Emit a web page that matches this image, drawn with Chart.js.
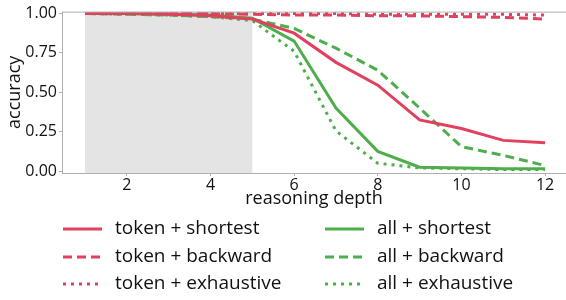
<!DOCTYPE html>
<html>
<head>
<meta charset="utf-8">
<script src="https://cdn.jsdelivr.net/npm/chart.js@4/dist/chart.umd.min.js"></script>
<style>
  html, body { margin: 0; padding: 0; background: #fff; }
  #wrap { width: 566px; height: 300px; }
</style>
</head>
<body>
<div id="wrap"><canvas id="accChart" width="566" height="300"></canvas></div>
<script>
const depths = [1, 2, 3, 4, 5, 6, 7, 8, 9, 10, 11, 12];
const xTicks = [2, 4, 6, 8, 10, 12];
const yTicks = [0, 0.25, 0.5, 0.75, 1.0];
const shadedRange = [1, 5];

const tokenShortest   = [1.0, 1.0, 0.995, 0.985, 0.965, 0.875, 0.69, 0.545, 0.325, 0.27, 0.195, 0.18];
const tokenBackward   = [1.0, 1.0, 1.0, 1.0, 0.995, 0.99, 0.99, 0.985, 0.985, 0.98, 0.975, 0.965];
const tokenExhaustive = [1.0, 1.0, 1.0, 1.0, 1.0, 1.0, 1.0, 0.995, 0.995, 0.995, 0.995, 0.99];
const allShortest     = [1.0, 1.0, 0.995, 0.99, 0.97, 0.825, 0.40, 0.125, 0.025, 0.02, 0.015, 0.015];
const allBackward     = [1.0, 0.995, 0.99, 0.98, 0.965, 0.905, 0.78, 0.64, 0.40, 0.155, 0.10, 0.035];
const allExhaustive   = [1.0, 0.995, 0.99, 0.98, 0.955, 0.76, 0.255, 0.05, 0.02, 0.015, 0.01, 0.01];

const RED = '#e2405f';
const GREEN = '#4eae4b';
const FONT = '"Open Sans", "Noto Sans", sans-serif';
const DASH = [9, 5];
const DOT = [3, 5];

const pts = vals => vals.map((v, i) => ({ x: depths[i], y: v }));
const line = (label, vals, color, dash) => ({
  label: label,
  data: pts(vals),
  borderColor: color,
  backgroundColor: color,
  borderWidth: 3,
  borderDash: dash,
  pointRadius: 0,
  tension: 0,
  fill: false
});

// grey region + frame round the plot
const frame = {
  id: 'frame',
  beforeDatasetsDraw(chart) {
    const { ctx, chartArea: a, scales: { x } } = chart;
    ctx.save();
    ctx.fillStyle = '#e4e4e4';
    const x0 = x.getPixelForValue(shadedRange[0]);
    const x1 = x.getPixelForValue(shadedRange[1]);
    ctx.fillRect(x0, a.top, x1 - x0, a.bottom - a.top);
    ctx.restore();
  },
  afterDatasetsDraw(chart) {
    const { ctx, chartArea: a } = chart;
    ctx.save();
    ctx.strokeStyle = '#b0b0b0';
    ctx.lineWidth = 1;
    ctx.strokeRect(a.left + 0.5, a.top + 0.5, a.right - a.left, a.bottom - a.top);
    ctx.restore();
  }
};

// two-column legend under the axis
const legendCols = {
  id: 'legendCols',
  afterDraw(chart) {
    const ctx = chart.ctx;
    const colX = [63, 325];
    const rowY = [229, 257, 284];
    ctx.save();
    ctx.font = '19px ' + FONT;
    ctx.textBaseline = 'middle';
    chart.data.datasets.forEach((ds, i) => {
      const c = Math.floor(i / 3), r = i % 3;
      const x = colX[c], y = rowY[r];
      ctx.strokeStyle = ds.borderColor;
      ctx.lineWidth = 3;
      ctx.setLineDash(ds.borderDash || []);
      ctx.beginPath();
      ctx.moveTo(x, y);
      ctx.lineTo(x + 39, y);
      ctx.stroke();
      ctx.setLineDash([]);
      ctx.fillStyle = '#111';
      ctx.fillText(ds.label, x + 52, y);
    });
    ctx.restore();
  }
};

new Chart(document.getElementById('accChart'), {
  type: 'line',
  data: {
    datasets: [
      line('token + shortest', tokenShortest, RED, []),
      line('token + backward', tokenBackward, RED, DASH),
      line('token + exhaustive', tokenExhaustive, RED, DOT),
      line('all + shortest', allShortest, GREEN, []),
      line('all + backward', allBackward, GREEN, DASH),
      line('all + exhaustive', allExhaustive, GREEN, DOT)
    ]
  },
  options: {
    responsive: false,
    animation: false,
    layout: { padding: { top: 8, right: 0, bottom: 90, left: 0 } },
    plugins: {
      legend: { display: false },
      tooltip: { enabled: false }
    },
    scales: {
      x: {
        type: 'linear',
        min: 0.45,
        max: 12.5,
        afterBuildTicks: s => { s.ticks = xTicks.map(v => ({ value: v })); },
        afterFit: s => { s.height = 37; },
        grid: { display: true, drawOnChartArea: false, tickLength: 3, color: '#b0b0b0' },
        border: { display: false },
        ticks: { color: '#111', font: { family: FONT, size: 16 }, padding: 0, maxRotation: 0 },
        title: { display: true, text: 'reasoning depth', color: '#111', font: { family: FONT, size: 18 }, padding: { top: -5, bottom: 0 } }
      },
      y: {
        min: -0.012,
        max: 1.012,
        afterBuildTicks: s => { s.ticks = yTicks.map(v => ({ value: v })); },
        afterFit: s => { s.width = 62; },
        grid: { display: true, drawOnChartArea: false, tickLength: 3, color: '#b0b0b0' },
        border: { display: false },
        ticks: {
          color: '#111',
          font: { family: FONT, size: 16 },
          padding: 2,
          callback: v => v.toFixed(2)
        },
        title: { display: true, text: 'accuracy', color: '#111', font: { family: FONT, size: 18 }, padding: { top: 4, bottom: 0 } }
      }
    }
  },
  plugins: [frame, legendCols]
});
</script>
</body>
</html>
